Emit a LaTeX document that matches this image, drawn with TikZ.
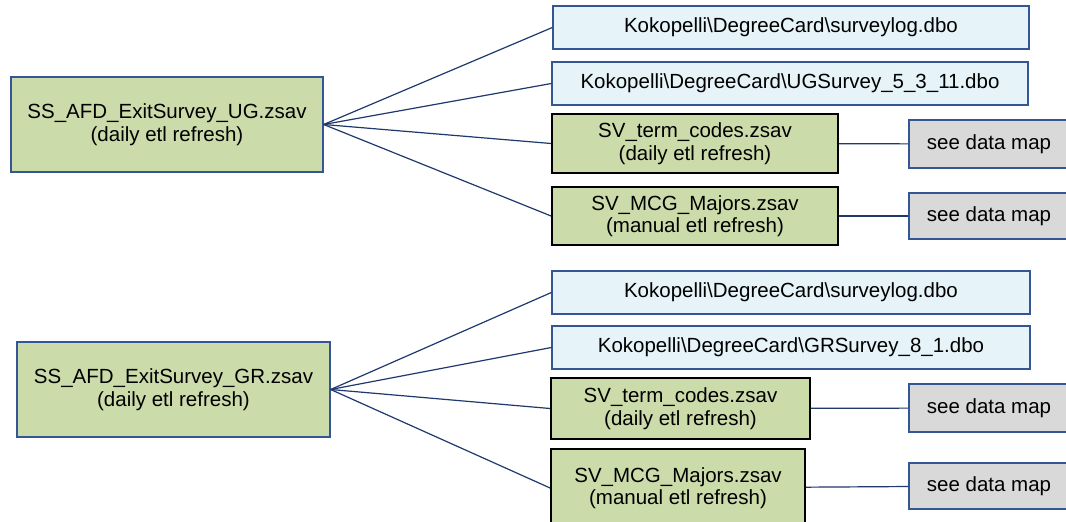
\documentclass[tikz,border=0pt]{standalone}
\usepackage{fontspec}
\setmainfont{Liberation Sans}
\usepackage{xcolor}
\usepackage{tikz}
\usetikzlibrary{positioning}

\definecolor{srcgreen}{RGB}{204,219,170}
\definecolor{dbblue}{RGB}{230,243,249}
\definecolor{mapgray}{RGB}{217,217,217}
\definecolor{edgeblue}{RGB}{52,86,148}
\definecolor{linkblue}{RGB}{31,56,110}

\begin{document}
\begin{tikzpicture}[x=1pt,y=-1pt,
  font=\fontsize{20.5}{22.5}\selectfont,
  box/.style={draw,rectangle,inner sep=0pt,align=center,line width=1.3pt},
  mainsrc/.style={box,draw=edgeblue,fill=srcgreen},
  zsav/.style={box,draw=black,fill=srcgreen,line width=1.8pt},
  dbo/.style={box,draw=edgeblue,fill=dbblue,minimum width=476pt,minimum height=43pt},
  datamap/.style={box,draw=edgeblue,fill=mapgray,minimum width=160pt},
  link/.style={draw=linkblue,line width=1.2pt}]
\useasboundingbox (0,0) rectangle (1066,522);
\fill[white] (0,0) rectangle (1066,522);
% undergraduate survey
\node[mainsrc,minimum width=312pt,minimum height=95pt] (ug) at (167,124.5) {SS\_AFD\_ExitSurvey\_UG.zsav\\(daily etl refresh)};
\node[dbo] (ug1) at (791,27.5) {Kokopelli\textbackslash DegreeCard\textbackslash surveylog.dbo};
\node[dbo] (ug2) at (790,83.5) {Kokopelli\textbackslash DegreeCard\textbackslash UGSurvey\_5\_3\_11.dbo};
\node[zsav,minimum width=286pt,minimum height=59pt] (ug3) at (695,143.5) {SV\_term\_codes.zsav\\(daily etl refresh)};
\node[zsav,minimum width=286pt,minimum height=58pt] (ug4) at (695,216) {SV\_MCG\_Majors.zsav\\(manual etl refresh)};
\node[datamap,minimum height=48pt] (ugm3) at (989,144) {see data map};
\node[datamap,minimum height=46pt] (ugm4) at (989,216) {see data map};
\foreach \t in {ug1,ug2,ug3,ug4}
  \draw[link] (ug.east) -- (\t.west);
\draw[link] (ug3) -- (ugm3);
\draw[link] (ug4) -- (ugm4);
% graduate survey
\node[mainsrc,minimum width=313pt,minimum height=95pt] (gr) at (173.5,389.5) {SS\_AFD\_ExitSurvey\_GR.zsav\\(daily etl refresh)};
\node[dbo,minimum width=478pt] (gr1) at (791,292.5) {Kokopelli\textbackslash DegreeCard\textbackslash surveylog.dbo};
\node[dbo,minimum width=478pt] (gr2) at (791,347.5) {Kokopelli\textbackslash DegreeCard\textbackslash GRSurvey\_8\_1.dbo};
\node[zsav,minimum width=259pt,minimum height=61pt] (gr3) at (680.5,408.5) {SV\_term\_codes.zsav\\(daily etl refresh)};
\node[zsav,minimum width=254pt,minimum height=78pt] (gr4) at (678,488) {SV\_MCG\_Majors.zsav\\(manual etl refresh)};
\node[datamap,minimum height=48pt] (grm3) at (989,408) {see data map};
\node[datamap,minimum height=46pt] (grm4) at (989,486) {see data map};
\foreach \t in {gr1,gr2,gr3,gr4}
  \draw[link] (gr.east) -- (\t.west);
\draw[link] (gr3) -- (grm3);
\draw[link] (gr4) -- (grm4);
\end{tikzpicture}
\end{document}
